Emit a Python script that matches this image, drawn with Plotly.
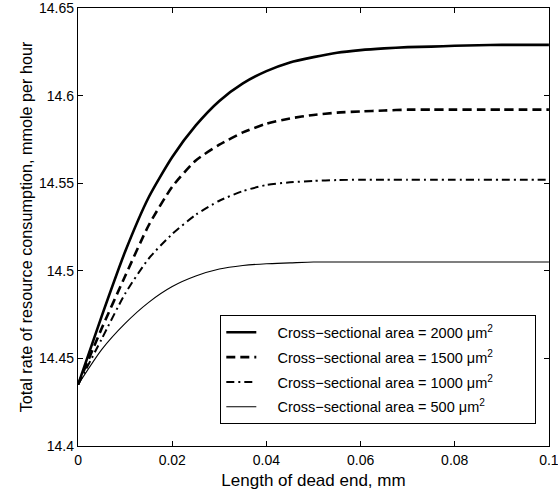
import plotly.graph_objects as go

x_mm = [0, 0.005, 0.01, 0.015, 0.02, 0.025, 0.03, 0.035, 0.04, 0.045, 0.05,
        0.055, 0.06, 0.065, 0.07, 0.075, 0.08, 0.085, 0.09, 0.095, 0.1]
rate_2000 = [14.435, 14.474, 14.511, 14.542, 14.565, 14.583, 14.597, 14.607, 14.614, 14.619, 14.622,
             14.6245, 14.626, 14.627, 14.6277, 14.628, 14.6285, 14.6288, 14.629, 14.629, 14.629]
rate_1500 = [14.435, 14.467, 14.497, 14.526, 14.548, 14.563, 14.572, 14.579, 14.584, 14.587, 14.589,
             14.5903, 14.591, 14.5915, 14.592, 14.592, 14.592, 14.592, 14.592, 14.592, 14.592]
rate_1000 = [14.435, 14.461, 14.487, 14.507, 14.521, 14.532, 14.540, 14.5455, 14.549, 14.5505, 14.5513,
             14.5518, 14.552, 14.552, 14.552, 14.552, 14.552, 14.552, 14.552, 14.552, 14.552]
rate_500 = [14.435, 14.455, 14.470, 14.482, 14.491, 14.497, 14.501, 14.503, 14.504, 14.5045, 14.505,
            14.505, 14.505, 14.505, 14.505, 14.505, 14.505, 14.505, 14.505, 14.505, 14.505]

series_names = [
    "Cross\u2212sectional area = 2000 \u03bcm<sup>2</sup>",
    "Cross\u2212sectional area = 1500 \u03bcm<sup>2</sup>",
    "Cross\u2212sectional area = 1000 \u03bcm<sup>2</sup>",
    "Cross\u2212sectional area = 500 \u03bcm<sup>2</sup>",
]
x_tickvals = [0, 0.02, 0.04, 0.06, 0.08, 0.1]
x_ticktext = ["0", "0.02", "0.04", "0.06", "0.08", "0.1"]
y_tickvals = [14.4, 14.45, 14.5, 14.55, 14.6, 14.65]
y_ticktext = ["14.4", "14.45", "14.5", "14.55", "14.6", "14.65"]

styles = [
    dict(width=2.6, dash="solid"),
    dict(width=2.6, dash="9px,5px"),
    dict(width=2.0, dash="8px,4px,2px,4px"),
    dict(width=1.1, dash="solid"),
]

pad_left = "\u00a0" * 4
pad_right = "\u00a0" * 9

fig = go.Figure()
for i, (name, ys) in enumerate(zip(series_names, [rate_2000, rate_1500, rate_1000, rate_500])):
    fig.add_trace(go.Scatter(
        x=x_mm, y=ys, mode="lines", name=pad_left + name + pad_right,
        line=dict(color="black", shape="spline", smoothing=0.6, **styles[i]),
        legendgroup=f"g{i}",
    ))

font_family = "Liberation Sans, Arial, Helvetica, sans-serif"
axis_common = dict(
    showline=True, linecolor="black", linewidth=1.3, mirror="ticks",
    ticks="inside", ticklen=5, tickcolor="black", tickwidth=1,
    showgrid=False, zeroline=False, ticklabeloverflow="allow", automargin=False,
    tickfont=dict(size=14, color="black", family=font_family),
)
fig.update_xaxes(range=[-0.00002, 0.10002], tickvals=x_tickvals, ticktext=x_ticktext,
                 ticklabelstandoff=1,
                 title=dict(text="Length of dead end, mm", font=dict(size=17, color="black", family=font_family), standoff=7),
                 **axis_common)
fig.update_yaxes(range=[14.39995, 14.65005], tickvals=y_tickvals, ticktext=y_ticktext,
                 title=dict(text="Total rate of resource consumption, mmole per hour", font=dict(size=16.2, color="black", family=font_family), standoff=2),
                 **axis_common)

fig.update_layout(
    width=558, height=493,
    margin=dict(l=78, r=9, t=8, b=47, autoexpand=False),
    paper_bgcolor="white", plot_bgcolor="white",
    font=dict(family=font_family, color="black"),
    legend=dict(
        x=0.3015, y=0.299, xanchor="left", yanchor="top",
        bgcolor="white", bordercolor="black", borderwidth=1.3,
        font=dict(size=14.5, color="black", family=font_family),
        tracegroupgap=3,
    ),
)

fig.write_html("out.html", config={"displayModeBar": False},
               post_script="document.body.style.margin='0px';")
